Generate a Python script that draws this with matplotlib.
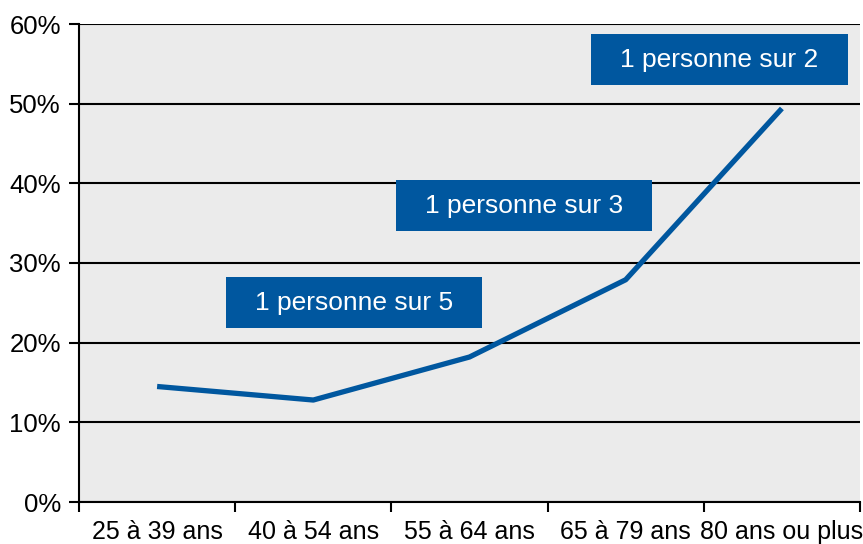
import matplotlib
matplotlib.use("Agg")
import matplotlib.pyplot as plt
from matplotlib.patches import Rectangle
from matplotlib.ticker import FuncFormatter

# tranches d'age et part de la population
categories = ["25 à 39 ans", "40 à 54 ans", "55 à 64 ans", "65 à 79 ans", "80 ans ou plus"]
values = [14.5, 12.8, 18.2, 27.9, 49.4]

# encadres
box_labels = ["1 personne sur 5", "1 personne sur 3", "1 personne sur 2"]
box_centers = [(1.26, 25.0), (2.35, 37.2), (3.6, 55.5)]

blue = "#00579f"
plt.rcParams['font.family'] = ['Liberation Sans', 'DejaVu Sans']

fig = plt.figure(figsize=(8.63, 5.44), dpi=100)
ax = fig.add_axes([79 / 863, 42 / 544, 781 / 863, 478 / 544])
ax.set_facecolor("#ebebeb")

x = list(range(len(categories)))
ax.plot(x, values, color=blue, lw=3.8, solid_capstyle='butt', zorder=3)

ax.set_xlim(-0.5, len(categories) - 0.5)
ax.set_ylim(0, 60)
ax.set_yticks(range(0, 61, 10))
ax.yaxis.set_major_formatter(FuncFormatter(lambda v, p: f"{int(v)}%"))
ax.grid(axis='y', color='black', lw=1.5, zorder=1)

ax.set_xticks(x)
ax.set_xticklabels(categories)
ax.set_xticks([i - 0.5 for i in range(len(categories) + 1)], minor=True)
ax.tick_params(axis='x', which='major', length=0, pad=13, labelsize=18)
ax.tick_params(axis='x', which='minor', length=7, width=1.5, direction='out')
ax.tick_params(axis='y', length=7, width=1.5, labelsize=18.5, pad=6)

for s in ['top', 'right']:
    ax.spines[s].set_visible(False)
for s in ['left', 'bottom']:
    ax.spines[s].set_linewidth(1.5)

bw, bh = 1.64, 6.4
for lab, (cx, cy) in zip(box_labels, box_centers):
    ax.add_patch(Rectangle((cx - bw / 2, cy - bh / 2), bw, bh, facecolor=blue,
                           edgecolor='none', zorder=4))
    ax.text(cx, cy, lab, color='white', ha='center', va='center', fontsize=19, zorder=5)

fig.savefig("out.png", dpi=100)
